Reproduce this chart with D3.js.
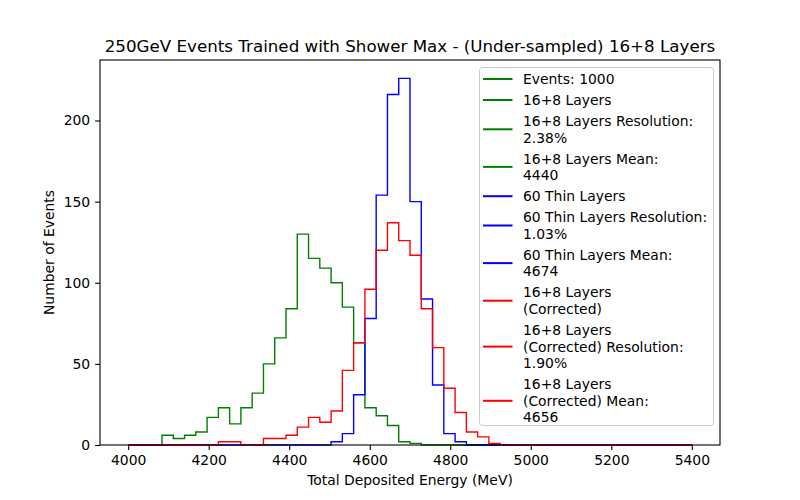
<!doctype html>
<html lang="en">
<head>
  <meta charset="UTF-8">
  <title>250GeV Events Trained with Shower Max</title>
  <style type="text/css">
    * { padding: 0; margin: 0; }
    body { background: #fff; }
    svg { font-family: "DejaVu Sans", sans-serif; }
    .axis text { font-size: 13.9px; fill: #000; }
    .axis line { stroke: #000; stroke-width: 1.1; }
  </style>
  <script src="https://cdn.jsdelivr.net/npm/d3@7"></script>
</head>
<body>
  <svg width="800" height="500"></svg>
  <script>
    // bins: 50 bins of 28 MeV from 4000 to 5400
    var binStart = 4000, binEnd = 5400, binCount = 50;

    var greenCounts = [0, 0, 0, 6, 4, 6, 8, 17, 23, 13,
      23, 32, 50, 66, 84, 130, 115, 109, 100, 85,
      63, 23, 18, 12, 2, 1, 0, 0, 0, 0,
      0, 0, 0, 0, 0, 0, 0, 0, 0, 0,
      0, 0, 0, 0, 0, 0, 0, 0, 0, 0];
    var blueCounts = [0, 0, 0, 0, 0, 0, 0, 0, 0, 0,
      0, 0, 0, 0, 0, 0, 0, 0, 2, 7,
      31, 78, 154, 216, 226, 150, 90, 37, 7, 2,
      0, 0, 0, 0, 0, 0, 0, 0, 0, 0,
      0, 0, 0, 0, 0, 0, 0, 0, 0, 0];
    var redCounts = [0, 0, 0, 0, 0, 0, 0, 0, 2, 2,
      0, 0, 4, 4, 6, 11, 17, 14, 21, 46,
      63, 96, 120, 137, 126, 117, 84, 60, 35, 20,
      8, 5, 1, 0, 0, 0, 0, 0, 0, 0,
      0, 0, 0, 0, 0, 0, 0, 0, 0, 0];

    var xTicks = [4000, 4200, 4400, 4600, 4800, 5000, 5200, 5400];
    var yTicks = [0, 50, 100, 150, 200];

    var legendLabels = [
      ["Events: 1000"],
      ["16+8 Layers"],
      ["16+8 Layers Resolution:", "2.38%"],
      ["16+8 Layers Mean:", "4440"],
      ["60 Thin Layers"],
      ["60 Thin Layers Resolution:", "1.03%"],
      ["60 Thin Layers Mean:", "4674"],
      ["16+8 Layers", "(Corrected)"],
      ["16+8 Layers", "(Corrected) Resolution:", "1.90%"],
      ["16+8 Layers", "(Corrected) Mean:", "4656"]
    ];
    var legendColors = ["green", "green", "green", "green", "blue", "blue", "blue", "red", "red", "red"];

    var marge = { top: 60, bottom: 55, left: 100, right: 80 };
    var width = 800 - marge.left - marge.right;
    var height = 500 - marge.top - marge.bottom;

    var edges = d3.range(binCount + 1).map(function (i) {
      return binStart + i * (binEnd - binStart) / binCount;
    });

    var pad = (binEnd - binStart) * 0.05;
    var xScale = d3.scaleLinear()
      .domain([binStart - pad, binEnd + pad])
      .range([0, width]);
    var yMax = d3.max(blueCounts.concat(greenCounts, redCounts)) * 1.05;
    var yScale = d3.scaleLinear()
      .domain([0, yMax])
      .range([height, 0]);

    var svg = d3.select("svg");
    var g = svg.append("g")
      .attr("transform", "translate(" + marge.left + "," + marge.top + ")");

    // step outline like histtype='step'
    function stepPoints(counts) {
      var pts = [[edges[0], 0]];
      counts.forEach(function (c, i) {
        pts.push([edges[i], c]);
        pts.push([edges[i + 1], c]);
      });
      pts.push([edges[binCount], 0]);
      return pts;
    }

    var line = d3.line()
      .x(function (d) { return xScale(d[0]); })
      .y(function (d) { return yScale(d[1]); });

    var series = [
      { counts: greenCounts, color: "green" },
      { counts: blueCounts, color: "blue" },
      { counts: redCounts, color: "red" }
    ];

    g.selectAll("path.hist")
      .data(series)
      .enter()
      .append("path")
      .attr("class", "hist")
      .attr("d", function (d) { return line(stepPoints(d.counts)); })
      .attr("fill", "none")
      .attr("stroke", function (d) { return d.color; })
      .attr("stroke-width", 1.4)
      .attr("stroke-linejoin", "miter");

    var xAxis = d3.axisBottom(xScale)
      .tickValues(xTicks)
      .tickSize(4.9)
      .tickPadding(4.9)
      .tickSizeOuter(0)
      .tickFormat(d3.format("d"));
    var yAxis = d3.axisLeft(yScale)
      .tickValues(yTicks)
      .tickSize(4.9)
      .tickPadding(4.9)
      .tickSizeOuter(0);

    var gx = g.append("g")
      .attr("class", "axis")
      .attr("transform", "translate(0," + height + ")")
      .call(xAxis);
    var gy = g.append("g")
      .attr("class", "axis")
      .call(yAxis);
    gx.select(".domain").remove();
    gy.select(".domain").remove();
    gx.selectAll("text").attr("font-family", "DejaVu Sans");
    gy.selectAll("text").attr("font-family", "DejaVu Sans");

    // spines
    g.append("rect")
      .attr("x", 0)
      .attr("y", 0)
      .attr("width", width)
      .attr("height", height)
      .attr("fill", "none")
      .attr("stroke", "#000")
      .attr("stroke-width", 1.1);

    // title and axis labels
    svg.append("text")
      .attr("x", marge.left + width / 2)
      .attr("y", 52)
      .attr("text-anchor", "middle")
      .attr("font-size", "16.7px")
      .text("250GeV Events Trained with Shower Max - (Under-sampled) 16+8 Layers");

    svg.append("text")
      .attr("x", marge.left + width / 2)
      .attr("y", 485)
      .attr("text-anchor", "middle")
      .attr("font-size", "13.9px")
      .text("Total Deposited Energy (MeV)");

    svg.append("text")
      .attr("transform", "translate(54," + (marge.top + height / 2) + ") rotate(-90)")
      .attr("text-anchor", "middle")
      .attr("font-size", "13.9px")
      .text("Number of Events");

    // legend
    var lineH = 16.6, gapH = 4.4;
    var legend = svg.append("g");
    legend.append("rect")
      .attr("x", 479.5)
      .attr("y", 67.5)
      .attr("width", 234)
      .attr("height", 358)
      .attr("rx", 3)
      .attr("fill", "#fff")
      .attr("fill-opacity", 0.8)
      .attr("stroke", "#ccc")
      .attr("stroke-width", 1);

    var yc = 79;
    legendLabels.forEach(function (lines, i) {
      var mid = yc + (lines.length - 1) * lineH / 2;
      legend.append("line")
        .attr("x1", 483)
        .attr("x2", 512.5)
        .attr("y1", mid)
        .attr("y2", mid)
        .attr("stroke", legendColors[i])
        .attr("stroke-width", 2);
      lines.forEach(function (t, j) {
        legend.append("text")
          .attr("x", 523)
          .attr("y", yc + j * lineH)
          .attr("dy", "0.36em")
          .attr("font-size", "13.9px")
          .text(t);
      });
      yc += lines.length * lineH + gapH;
    });
  </script>
</body>
</html>
